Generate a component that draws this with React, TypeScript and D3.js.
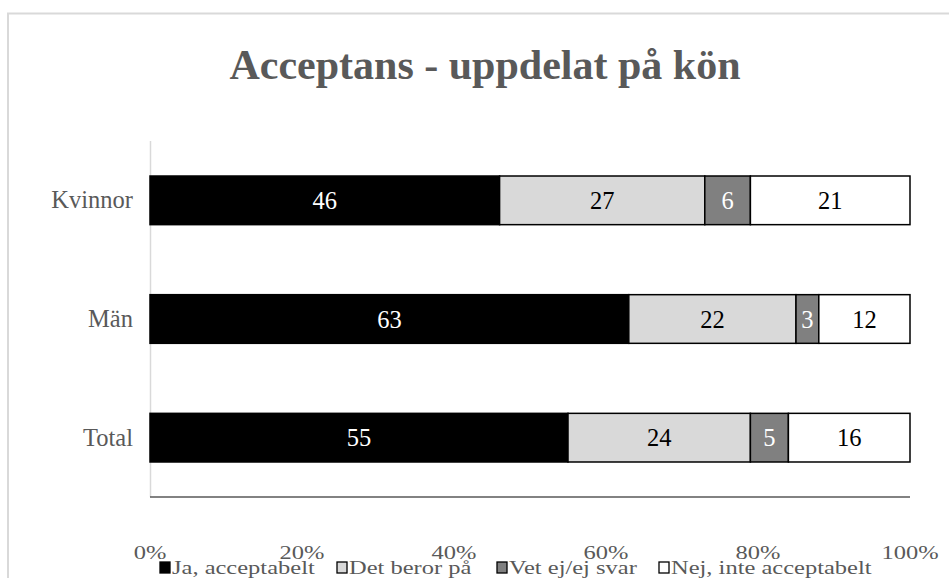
import React from "react";
import * as d3 from "d3";

const categories = ["Kvinnor", "Män", "Total"];
const seriesNames = ["Ja, acceptabelt", "Det beror på", "Vet ej/ej svar", "Nej, inte acceptabelt"];
const jaValues = [46, 63, 55];
const beror = [27, 22, 24];
const vetEj = [6, 3, 5];
const nej = [21, 12, 16];
const tickValues = [0, 0.2, 0.4, 0.6, 0.8, 1];
const title = "Acceptans - uppdelat på kön";

const fills = ["#000000", "#d9d9d9", "#808080", "#ffffff"];
const labelColors = ["#ffffff", "#000000", "#ffffff", "#000000"];

export default function App() {
  const W = 949, H = 578;
  const left = 150, right = 910, top = 141, bottom = 497;
  const x = d3.scaleLinear().domain([0, 1]).range([left, right]);
  const y = d3.scaleBand().domain(categories).range([top, bottom]).paddingInner(0.59).paddingOuter(0.295);
  const rows = categories.map((c, i) => ({ c, Ja: jaValues[i], Det: beror[i], Vet: vetEj[i], Nej: nej[i] }));
  const keys = ["Ja", "Det", "Vet", "Nej"];
  const stack = d3.stack<any>().keys(keys)(rows);
  const font = "'Liberation Serif', 'Times New Roman', serif";
  const legendX = [160, 337, 497, 659];
  const fs = 24.5;
  const sy = 0.8;
  return (
    <svg width={W} height={H} style={{ position: "absolute", left: 0, top: 0 }} fontFamily={font}>
      <rect x={0} y={0} width={W} height={H} fill="#fff" />
      <rect x={8} y={13.5} width={1000} height={700} fill="#fff" stroke="#d9d9d9" strokeWidth={2} />
      <text x={485} y={79} textAnchor="middle" fontSize={42} fontWeight="bold" fill="#595959">{title}</text>
      <line x1={x(0) + 0.5} x2={x(0) + 0.5} y1={top} y2={bottom} stroke="#d9d9d9" strokeWidth={1.5} />
      {stack.map((s, si) =>
        s.map((d, di) => {
          const total = rows[di].Ja + rows[di].Det + rows[di].Vet + rows[di].Nej;
          const x0 = x(d[0] / total), x1 = x(d[1] / total);
          const yy = y(categories[di])!;
          const h = y.bandwidth();
          const v = d[1] - d[0];
          return (
            <g key={si + "-" + di}>
              <rect x={x0} y={yy} width={x1 - x0} height={h} fill={fills[si]} stroke="#000" strokeWidth={1.5} />
              <text x={(x0 + x1) / 2} y={yy + h / 2 + 8.5} textAnchor="middle" fontSize={fs} fill={labelColors[si]}>{v}</text>
            </g>
          );
        })
      )}
      <line x1={x(0)} x2={x(1)} y1={bottom} y2={bottom} stroke="#595959" strokeWidth={1.5} />
      {categories.map((c) => (
        <text key={c} x={133} y={y(c)! + y.bandwidth() / 2 + 8} textAnchor="end" fontSize={fs} fill="#595959">{c}</text>
      ))}
      {tickValues.map((t) => (
        <text key={t} transform={`translate(${x(t)},559) scale(1,${sy})`} textAnchor="middle" fontSize={fs} fill="#595959">{d3.format(".0%")(t)}</text>
      ))}
      {seriesNames.map((n, i) => (
        <g key={n}>
          <rect x={legendX[i]} y={562} width={10} height={11} fill={fills[i]} stroke="#000" strokeWidth={1.3} />
          <text transform={`translate(${legendX[i] + 12},574) scale(1,${sy})`} fontSize={fs} fill="#595959">{n}</text>
        </g>
      ))}
    </svg>
  );
}
